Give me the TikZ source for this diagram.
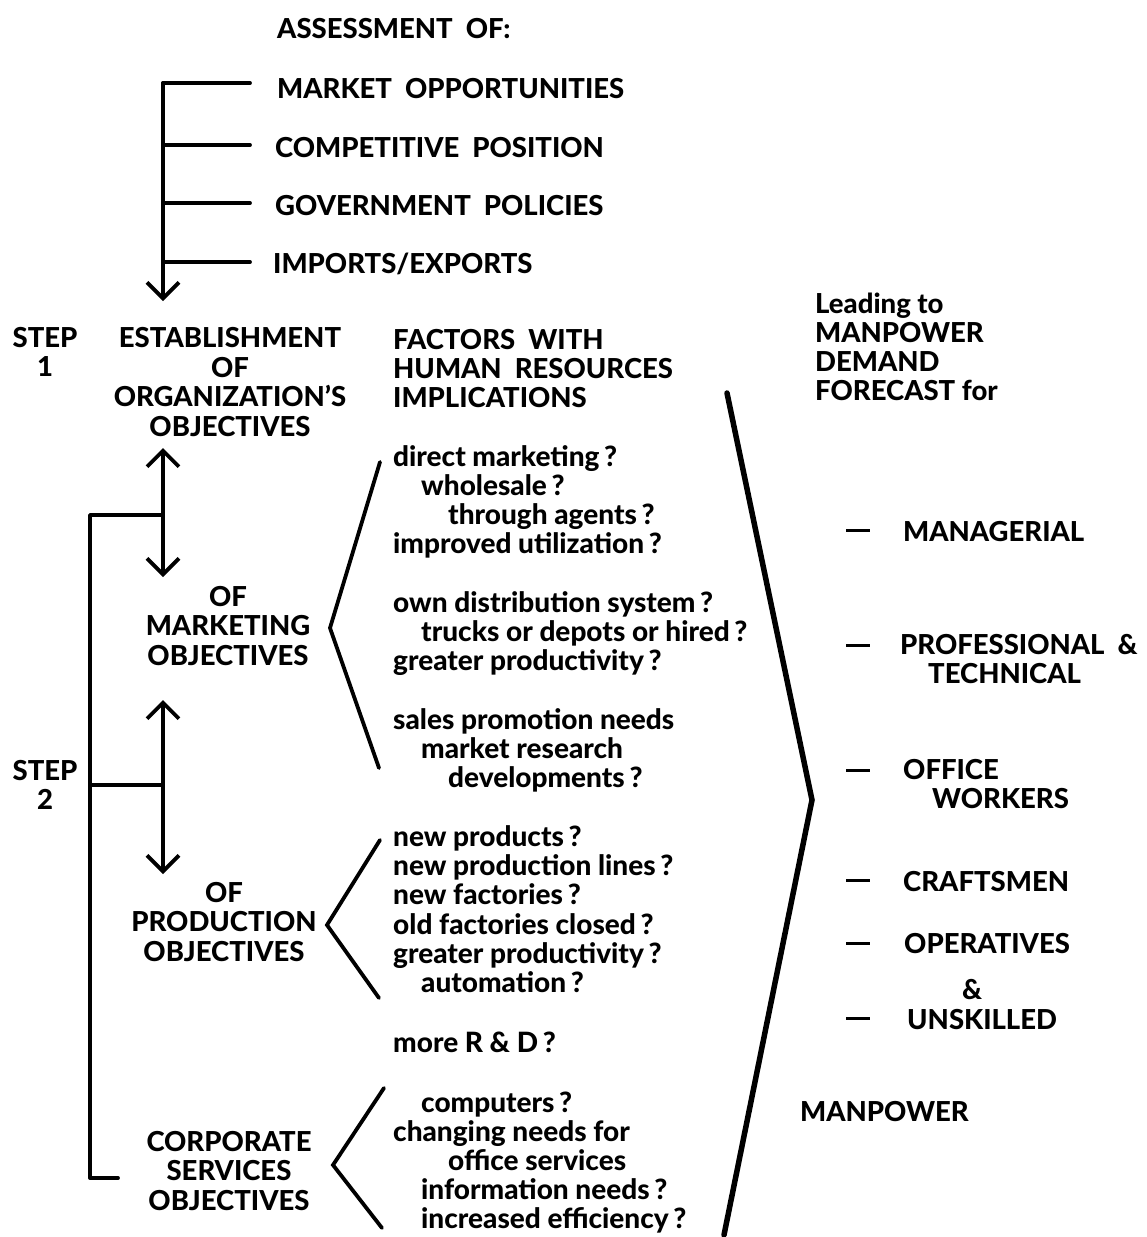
\documentclass[tikz,border=0pt]{standalone}
\usepackage{fontspec}
\setmainfont{Lato}[BoldFont=Lato Heavy]
\usetikzlibrary{arrows.meta}
\begin{document}
\begin{tikzpicture}[x=1pt,y=-1pt,
  caps/.style={font=\fontsize{27.5}{29.5}\selectfont\bfseries, inner sep=0pt},
  lower/.style={font=\fontsize{28}{29}\selectfont\bfseries, inner sep=0pt, anchor=base west},
  block/.style={caps, align=center},
  rule/.style={line width=3.8pt, line cap=round, line join=round},
  heavy/.style={line width=5.5pt, line cap=round, line join=round},
  tip/.style={-{Straight Barb[length=16pt,width=32pt]}},
  tips/.style={{Straight Barb[length=16pt,width=32pt]}-{Straight Barb[length=16pt,width=32pt]}},
  dashmark/.style={line width=3pt}
]
\useasboundingbox (0,0) rectangle (1146,1237);

% ---- assessment list ----
\node[caps, anchor=base west] (assess) at (277,38) {ASSESSMENT\ \ OF:};
\node[caps, anchor=base west] (mo) at (277,98) {MARKET\ \ OPPORTUNITIES};
\node[caps, anchor=base west] (cp) at (275,157) {COMPETITIVE\ \ POSITION};
\node[caps, anchor=base west] (gp) at (275,215) {GOVERNMENT\ \ POLICIES};
\node[caps, anchor=base west] (ie) at (273,273) {IMPORTS/EXPORTS};

\coordinate (trunkTop) at (163,83);
\coordinate (trunkEnd) at (163,301);
\draw[rule, tip] (trunkTop) -- (trunkEnd);
\foreach \n/\y in {mo/83, cp/145, gp/203, ie/262}
  \draw[rule] (163,\y) -- (250,\y);

% ---- step labels ----
\node[block] (step1) at (45,352) {STEP\\1};
\node[block] (step2) at (45,785) {STEP\\2};

% ---- objectives column ----
\node[block] (estab) at (230,382) {ESTABLISHMENT\\OF\\ORGANIZATION'S\\OBJECTIVES};
\node[block] (mkt) at (228,626) {OF\\MARKETING\\OBJECTIVES};
\node[block] (prod) at (224,922) {OF\\PRODUCTION\\OBJECTIVES};
\node[block] (corp) at (229,1171) {CORPORATE\\SERVICES\\OBJECTIVES};

\draw[rule, tips] (163,448) -- (163,577);
\draw[rule, tips] (163,700) -- (163,874);
\draw[rule] (163,515) -- (90,515) -- (90,1178) -- (118,1178);
\draw[rule] (90,785) -- (163,785);

% ---- factors column ----
\node[caps, anchor=base west] (fac1) at (393,349) {FACTORS\ \ WITH};
\node[caps, anchor=base west] (fac2) at (393,378) {HUMAN\ \ RESOURCES};
\node[caps, anchor=base west] (fac3) at (393,407) {IMPLICATIONS};

\draw[rule, line join=miter] (380,462) -- (330,628) -- (379,768);
\draw[rule, line join=miter] (380,840) -- (327,925) -- (379,998);
\draw[rule, line join=miter] (384,1088) -- (333,1165) -- (382,1228);

\node[lower] (f1) at (393,466) {direct marketing\,?};
\node[lower] (f2) at (421,495) {wholesale\,?};
\node[lower] (f3) at (448,524) {through agents\,?};
\node[lower] (f4) at (393,553) {improved utilization\,?};
\node[lower] (f5) at (393,612) {own distribution system\,?};
\node[lower] (f6) at (421,641) {trucks or depots or hired\,?};
\node[lower] (f7) at (393,670) {greater productivity\,?};
\node[lower] (f8) at (393,729) {sales promotion needs};
\node[lower] (f9) at (421,758) {market research};
\node[lower] (f10) at (448,787) {developments\,?};
\node[lower] (p1) at (393,846) {new products\,?};
\node[lower] (p2) at (393,875) {new production lines\,?};
\node[lower] (p3) at (393,904) {new factories\,?};
\node[lower] (p4) at (393,934) {old factories closed\,?};
\node[lower] (p5) at (393,963) {greater productivity\,?};
\node[lower] (p6) at (421,992) {automation\,?};
\node[lower] (rd) at (393,1052) {more R \& D\,?};
\node[lower] (c1) at (421,1112) {computers\,?};
\node[lower] (c2) at (393,1141) {changing needs for};
\node[lower] (c3) at (448,1170) {office services};
\node[lower] (c4) at (421,1199) {information needs\,?};
\node[lower] (c5) at (421,1228) {increased efficiency\,?};

% ---- large bracket ----
\draw[heavy, line join=miter] (727,393) -- (812,800) -- (724,1235);

% ---- manpower categories ----
\node[caps, anchor=base west] (lead) at (815,313) {Leading to};
\node[caps, anchor=base west] (lead2) at (815,342) {MANPOWER};
\node[caps, anchor=base west] (lead3) at (815,371) {DEMAND};
\node[caps, anchor=base west] (lead4) at (815,400) {FORECAST for};

\node[caps, anchor=base west] (man) at (903,541) {MANAGERIAL};
\node[caps, anchor=base west] (pro) at (900,654) {PROFESSIONAL\ \ \&};
\node[caps, anchor=base west] (tech) at (928,683) {TECHNICAL};
\node[caps, anchor=base west] (off) at (903,779) {OFFICE};
\node[caps, anchor=base west] (wrk) at (932,808) {WORKERS};
\node[caps, anchor=base west] (craft) at (903,891) {CRAFTSMEN};
\node[caps, anchor=base west] (oper) at (904,953) {OPERATIVES};
\node[caps, anchor=base west] (amp) at (962,999) {\&};
\node[caps, anchor=base west] (unsk) at (907,1029) {UNSKILLED};
\node[caps, anchor=base west] (mp) at (800,1121) {MANPOWER};

\foreach \y in {530, 645, 770, 880, 943, 1018}
  \draw[dashmark] (846,\y) -- (870,\y);
\end{tikzpicture}
\end{document}
